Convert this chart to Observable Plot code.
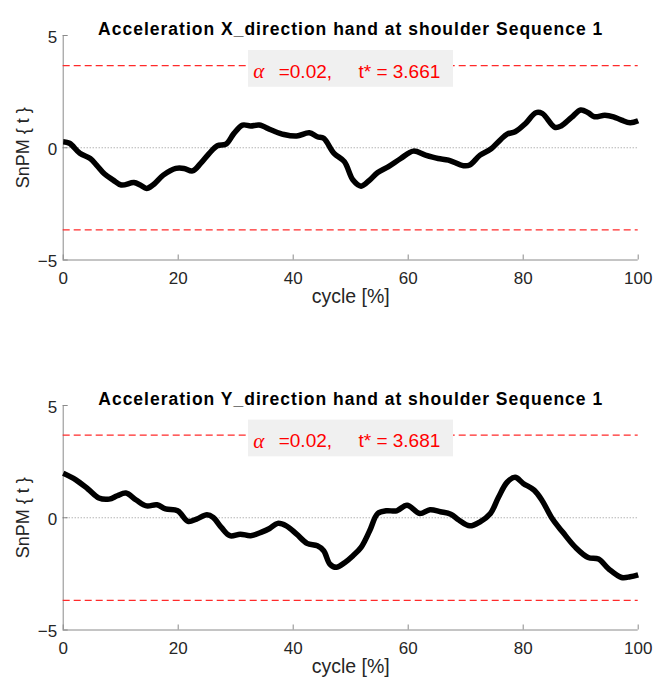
<!DOCTYPE html>
<html><head><meta charset="utf-8">
<script src="https://cdn.jsdelivr.net/npm/d3@7"></script>
<script src="https://cdn.jsdelivr.net/npm/@observablehq/plot@0.6"></script>
<style>body{margin:0;background:#fff;} #chart svg{display:block;overflow:visible}</style>
</head><body><div id="chart"></div>
<script>
// ---- data ----
const titleX = "Acceleration X_direction hand at shoulder Sequence 1";
const titleY = "Acceleration Y_direction hand at shoulder Sequence 1";
const xLabel = "cycle [%]";
const yLabel = "SnPM { t }";
const xTicks = [0, 20, 40, 60, 80, 100];
const yTicks = [-5, 0, 5];
const alpha = 0.02;
const tstarX = 3.661;
const tstarY = 3.681;

const cycleX = [0,1.1,2.9,4.7,5.8,7.2,8.7,10.1,12.3,13.4,14.5,15.6,17.4,19.6,21,22.5,23.9,25.4,26.8,28.3,29.7,31.2,32.6,34.1,36.2,38.4,40.6,42.8,44.2,45.3,47.1,48.9,50.4,51.8,53.3,54.7,56.5,58.7,60.9,63,65.2,67,69.6,70.7,72.5,74.3,76.1,77.2,78.6,80.4,82.2,83.3,85.5,86.6,88.4,90,91.3,92.4,94.2,95.7,97.1,98.6,100];
const snpmX = [0.27,0.2,-0.25,-0.48,-0.77,-1.17,-1.44,-1.66,-1.55,-1.66,-1.81,-1.66,-1.22,-0.92,-0.92,-1.03,-0.7,-0.25,0.09,0.16,0.64,1.01,0.97,1.01,0.79,0.59,0.52,0.67,0.49,0.42,-0.25,-0.62,-1.44,-1.71,-1.44,-1.1,-0.85,-0.48,-0.15,-0.33,-0.48,-0.55,-0.8,-0.77,-0.33,-0.07,0.37,0.61,0.71,1.08,1.56,1.53,0.91,0.97,1.35,1.68,1.56,1.38,1.45,1.38,1.23,1.11,1.2];

const cycleY = [0,2.2,4.3,6.2,8,9.4,10.9,12.7,14.5,16.3,17.8,19.9,21.7,23.2,25,26.1,27.5,29,30.8,32.6,34.4,35.9,37.3,38.8,40.6,42.4,44.2,45.3,46.4,47.5,49,50.4,51.8,53.3,54.7,56.2,58,59.8,62,63.8,65.6,67.4,68.8,70.7,72.5,74.3,75.7,77.2,78.6,80,81.9,83.3,85.1,86.9,89.1,91.3,93.1,94.9,97.1,98.6,100];
const snpmY = [1.98,1.69,1.28,0.88,0.83,0.98,1.1,0.79,0.53,0.58,0.39,0.31,-0.16,-0.06,0.13,0.01,-0.43,-0.8,-0.73,-0.8,-0.65,-0.48,-0.25,-0.36,-0.73,-1.14,-1.25,-1.47,-2.07,-2.21,-1.99,-1.69,-1.32,-0.58,0.19,0.31,0.31,0.56,0.19,0.36,0.27,0.16,-0.1,-0.36,-0.18,0.19,0.91,1.58,1.8,1.53,1.23,0.76,-0.06,-0.65,-1.32,-1.77,-1.84,-2.29,-2.66,-2.63,-2.54];

// ---- layout / style ----
const W = 654, H = 343;
const mL = 62.7, mR = 16.3;
const axisGrey = "#8a8a8a";
const textCol = "#262626";
const font = "'Liberation Sans', Arial, Helvetica, sans-serif";

function panel({title, cycle, values, tstar, marginTop, marginBottom, titleDy}) {
  const data = cycle.map((c, i) => ({c, v: values[i]}));
  const plotH = H - marginTop - marginBottom;
  const plotW = W - mL - mR;
  const ann = [{x: 50, y: tstar}];
  const svg = Plot.plot({
    width: W, height: H,
    marginLeft: mL, marginRight: mR, marginTop, marginBottom,
    style: {fontFamily: font, color: textCol, background: "white", overflow: "visible"},
    x: {domain: [0, 100]},
    y: {domain: [-5, 5]},
    marks: [
      Plot.ruleX([0], {stroke: axisGrey, strokeWidth: 1}),
      Plot.ruleY([-5], {stroke: axisGrey, strokeWidth: 1}),
      Plot.tickX(xTicks, {x: d => d, insetTop: plotH - 5, stroke: axisGrey}),
      Plot.tickY(yTicks, {y: d => d, insetRight: plotW - 5, stroke: axisGrey}),
      Plot.axisX({ticks: xTicks, tickSize: 0, tickPadding: 12, fontSize: 17, label: null, tickFormat: d => d}),
      Plot.axisY({ticks: yTicks, tickSize: 0, tickPadding: 6, fontSize: 17, label: null, dy: 2}),
      Plot.ruleY([0], {x1: 0, x2: 100, stroke: "#777", strokeWidth: 0.8, strokeDasharray: "1,2"}),
      Plot.ruleY([tstar, -tstar], {x1: 0, x2: 100, stroke: "#ff2a2a", strokeWidth: 1.3, strokeDasharray: "7,4"}),
      Plot.rect(ann, {x1: "x", x2: "x", y1: "y", y2: "y", insetLeft: -102.2, insetRight: -102.8, insetTop: -15, insetBottom: -21.7, fill: "#f0f0f0"}),
      Plot.text(ann, {x: "x", y: "y", text: () => "\u03b1", textAnchor: "start", dx: -97.5, dy: 6, fontSize: 21, fontStyle: "italic", fontFamily: "'Liberation Serif', 'Times New Roman', serif", fill: "#ff0000"}),
      Plot.text(ann, {x: "x", y: "y", text: () => `=${alpha.toFixed(2)},\u00a0\u00a0\u00a0\u00a0\u00a0t* = ${tstar.toFixed(3)}`, textAnchor: "start", dx: -72, dy: 6, fontSize: 19, fill: "#ff0000"}),
      Plot.line(data, {x: "c", y: "v", stroke: "black", strokeWidth: 5.5, curve: "catmull-rom", strokeLinejoin: "round", strokeLinecap: "butt"}),
      Plot.text([title], {frameAnchor: "top", text: d => d, dy: titleDy, fontSize: 17.5, fontWeight: "bold", fill: "black"}),
      Plot.text([xLabel], {frameAnchor: "bottom", text: d => d, dy: 43, fontSize: 19.5, fill: textCol}),
      Plot.text([yLabel], {frameAnchor: "left", text: d => d, dx: -40, rotate: -90, textAnchor: "middle", fontSize: 18, fill: textCol})
    ]
  });
  d3.select(svg).selectAll("text").filter(function() { return this.textContent === title; })
    .style("letter-spacing", "1px");
  return svg;
}

const root = document.getElementById("chart");
root.appendChild(panel({title: titleX, cycle: cycleX, values: snpmX, tstar: tstarX, marginTop: 35, marginBottom: 83.5, titleDy: -13}));
root.appendChild(panel({title: titleY, cycle: cycleY, values: snpmY, tstar: tstarY, marginTop: 62, marginBottom: 56.5, titleDy: -12.5}));
</script>
</body></html>
